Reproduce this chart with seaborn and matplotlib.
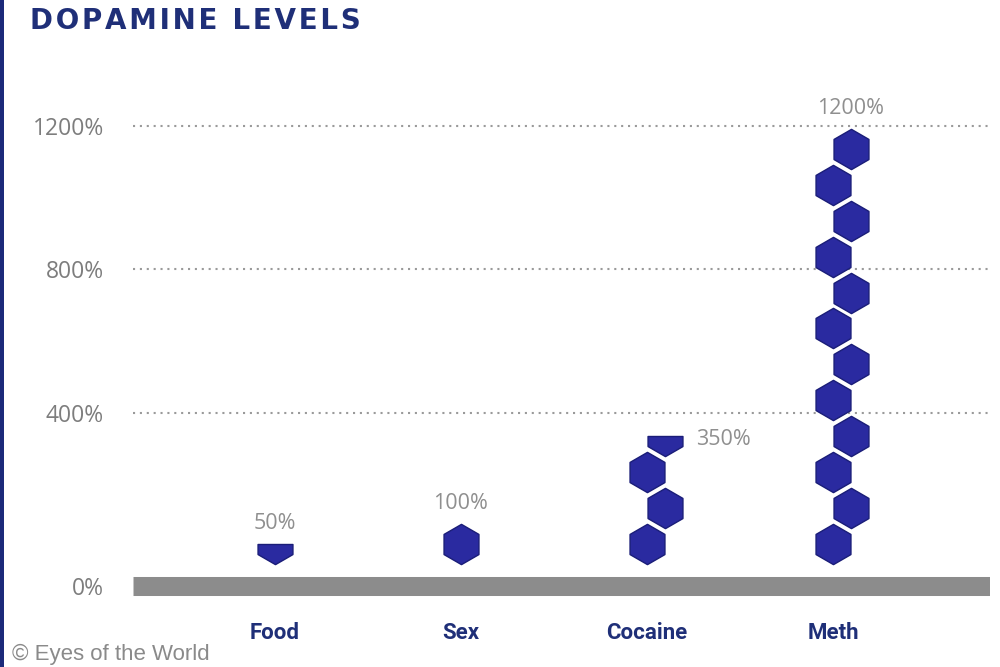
import numpy as np
import pandas as pd
import matplotlib
matplotlib.use("Agg")
import matplotlib.pyplot as plt
import seaborn as sns
from matplotlib.path import Path
from matplotlib.patches import Rectangle

# chart data
categories = ['Food', 'Sex', 'Cocaine', 'Meth']
values = [50, 100, 350, 1200]
value_labels = ['50%', '100%', '350%', '1200%']
label_side = ['top', 'top', 'right', 'top']
grid_values = [400, 800, 1200]
tick_values = [-82, 400, 800, 1200]
tick_labels = ['0%', '400%', '800%', '1200%']

UNIT = 100      # one hexagon stands for 100%
ZIG = 0.097     # sideways zigzag step, in category units
BASE = 35       # centre of the first hexagon
BAND_Y = -82    # grey floor band
HEX_PT = 29.0   # marker height in points
NAVY = '#1f2f78'
HEX_FILL = '#2a2aa0'
HEX_EDGE = '#1a1d78'
GREY = '#8c8c8c'

sns.set_theme(style='white')
plt.rcParams['font.family'] = ['Open Sans', 'DejaVu Sans']


def hex_path(frac=1.0):
    # pointy-top hexagon, keep only the lower `frac` of its height
    r3 = np.sqrt(3) / 2
    pts = [(0, 1), (r3, 0.5), (r3, -0.5), (0, -1), (-r3, -0.5), (-r3, 0.5)]
    cut = -1 + 2 * frac
    out = []
    for j in range(len(pts)):
        p, q = pts[j], pts[(j + 1) % len(pts)]
        pin, qin = p[1] <= cut + 1e-9, q[1] <= cut + 1e-9
        if pin:
            out.append(p)
        if pin != qin:
            t = (cut - p[1]) / (q[1] - p[1])
            out.append((p[0] + t * (q[0] - p[0]), cut))
    out.append(out[0])
    return Path(out, closed=True), cut


# one row per hexagon
rows = []
for i, (cat, v) in enumerate(zip(categories, values)):
    n_full, rem = divmod(v, UNIT)
    for k in range(n_full):
        rows.append((cat, i + ZIG * (k % 2), BASE + k * UNIT, 1.0))
    if rem:
        k = n_full
        rows.append((cat, i + ZIG * (k % 2), BASE + k * UNIT, rem / UNIT))
df = pd.DataFrame(rows, columns=['category', 'x', 'y', 'frac'])

fig = plt.figure(figsize=(10, 6.67), dpi=100)
ax = fig.add_axes([0.133, 0.1004, 0.857, 0.7496])

for g in grid_values:
    ax.axhline(g, color='#9a9a9a', lw=1.5, ls=(0, (1, 2.3)), zorder=1)
ax.axhline(BAND_Y, color=GREY, lw=13.7, solid_capstyle='butt', zorder=1)

for frac, sub in df.groupby('frac'):
    path, _ = hex_path(frac)
    sns.scatterplot(data=sub, x='x', y='y', ax=ax, marker=path,
                    s=HEX_PT ** 2, color=HEX_FILL, edgecolor=HEX_EDGE,
                    linewidth=1.0, zorder=3, legend=False)

# value labels on the top hexagon of each stack
for cat, lab, side in zip(categories, value_labels, label_side):
    top = df[df['category'] == cat].iloc[-1]
    _, cut = hex_path(top['frac'])
    if side == 'top':
        ax.annotate(lab, (top['x'], top['y']), xytext=(0, HEX_PT / 2 * cut + 7),
                    textcoords='offset points', ha='center', va='bottom',
                    fontsize=15.5, color='#8f8f8f')
    else:
        ax.annotate(lab, (top['x'], top['y']), xytext=(22, -2),
                    textcoords='offset points', ha='left', va='center',
                    fontsize=15.5, color='#8f8f8f')

ax.set_xlim(-0.763, 3.844)
ax.set_ylim(-121, 1271)
ax.set_xticks(range(len(categories)))
ax.set_xticklabels(categories, fontsize=16, fontweight='bold', color=NAVY,
                   family=['Roboto', 'DejaVu Sans'])
ax.set_yticks(tick_values)
ax.set_yticklabels(tick_labels, fontsize=16.5, color='#7d7d7d')
ax.tick_params(axis='x', length=0, pad=16)
ax.tick_params(axis='y', length=0, pad=21)
ax.set_xlabel('')
ax.set_ylabel('')
sns.despine(ax=ax, left=True, bottom=True)

# title, left rule and credit
title = '\u200a'.join('DOPAMINE LEVELS')
fig.text(0.030, 1 - 29 / 667, title, fontsize=20, fontweight='bold',
         color=NAVY, family='DejaVu Sans', va='baseline', ha='left')
fig.add_artist(Rectangle((0, 0), 0.004, 1, transform=fig.transFigure,
                         color='#1c2a7a', lw=0))
fig.text(0.012, 1 - 660 / 667, '\u00a9 Eyes of the World', fontsize=16,
         color='#8a8a8a', family='Liberation Sans', va='baseline', ha='left')

fig.savefig('out.png', dpi=100)
